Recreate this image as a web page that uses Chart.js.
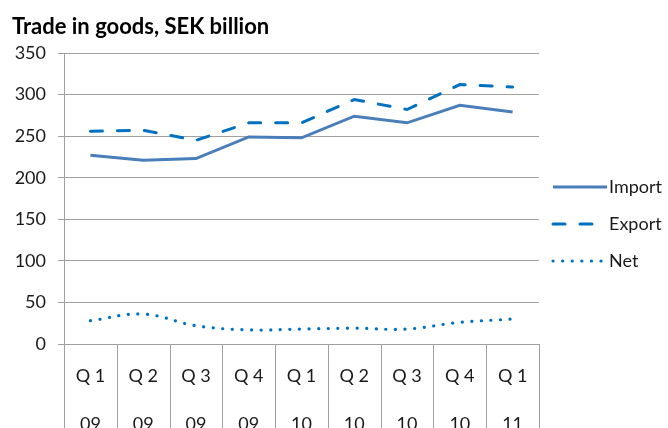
<!DOCTYPE html>
<html>
<head>
<meta charset="utf-8">
<script src="https://cdn.jsdelivr.net/npm/chart.js@4/dist/chart.umd.min.js"></script>
<style>
  html, body { margin: 0; padding: 0; background: #fff; overflow: hidden; }
  canvas { display: block; }
</style>
</head>
<body>
<canvas id="tradeChart" width="668" height="456"></canvas>
<script>
// quarters and years, two lines per category label
const quarters = ["Q 1", "Q 2", "Q 3", "Q 4", "Q 1", "Q 2", "Q 3", "Q 4", "Q 1"];
const years = ["09", "09", "09", "09", "10", "10", "10", "10", "11"];

// SEK billion
const importValues = [227, 221, 223, 249, 248, 274, 266, 287, 279];
const exportValues = [256, 257, 245, 266, 266, 294, 282, 312, 309];
const netValues = [28, 36, 22, 17, 18, 19, 18, 26, 30];

const yTicks = [0, 50, 100, 150, 200, 250, 300, 350];

const labels = quarters.map((q, i) => [q, years[i]]);
const gridColor = "#a0a0a0";
const textColor = "#1a1a1a";
const fontFamily = "Lato, 'Open Sans', sans-serif";

// legend on the right, one short line sample per series
const lineLegend = {
  id: "lineLegend",
  afterDraw(chart) {
    const ctx = chart.ctx;
    chart.data.datasets.forEach((ds, i) => {
      const y = 187 + i * 37;
      ctx.save();
      ctx.strokeStyle = ds.borderColor;
      ctx.lineWidth = ds.borderWidth;
      ctx.lineCap = ds.borderCapStyle || "butt";
      ctx.setLineDash(ds.borderDash || []);
      ctx.beginPath();
      ctx.moveTo(553, y);
      ctx.lineTo(607, y);
      ctx.stroke();
      ctx.setLineDash([]);
      ctx.fillStyle = textColor;
      ctx.font = "18px " + fontFamily;
      ctx.textBaseline = "middle";
      ctx.fillText(ds.label, 609, y);
      ctx.restore();
    });
  },
};

// vertical dividers between the category labels, down to the bottom edge
const categoryDividers = {
  id: "categoryDividers",
  afterDraw(chart) {
    const ctx = chart.ctx;
    const xScale = chart.scales.x;
    const bottom = chart.chartArea.bottom;
    const step = xScale.getPixelForValue(1) - xScale.getPixelForValue(0);
    ctx.save();
    ctx.strokeStyle = gridColor;
    ctx.lineWidth = 1;
    for (let i = 0; i <= labels.length; i++) {
      const px = Math.round(xScale.getPixelForValue(i) - step / 2) + 0.5;
      ctx.beginPath();
      ctx.moveTo(px, bottom);
      ctx.lineTo(px, chart.height);
      ctx.stroke();
    }
    ctx.restore();
  },
};

const ctx = document.getElementById("tradeChart").getContext("2d");
const tradeChart = new Chart(ctx, {
  type: "line",
  data: {
    labels: labels,
    datasets: [
      {
        label: "Import",
        data: importValues,
        borderColor: "#4a7ebb",
        borderWidth: 3,
        tension: 0,
        pointRadius: 0,
      },
      {
        label: "Export",
        data: exportValues,
        borderColor: "#0070c0",
        borderWidth: 3,
        borderDash: [12, 15],
        borderCapStyle: "round",
        tension: 0,
        pointRadius: 0,
      },
      {
        label: "Net",
        data: netValues,
        borderColor: "#0070c0",
        borderWidth: 3.2,
        borderDash: [0.1, 9.5],
        borderCapStyle: "round",
        tension: 0.4,
        pointRadius: 0,
      },
    ],
  },
  options: {
    responsive: false,
    animation: false,
    layout: { padding: { left: 12, right: 129, top: 0, bottom: 0 } },
    plugins: {
      legend: { display: false },
      tooltip: { enabled: false },
      title: {
        display: true,
        text: "Trade in goods, SEK billion",
        align: "start",
        color: "#000",
        font: { family: fontFamily, size: 22, weight: "bold", lineHeight: 1.2 },
        padding: { top: 13.5, bottom: 13.1 },
      },
    },
    scales: {
      x: {
        offset: true,
        border: { color: gridColor, width: 1 },
        grid: { display: false, drawTicks: false },
        ticks: {
          padding: 7.5,
          color: textColor,
          maxRotation: 0,
          autoSkip: false,
          font: { family: fontFamily, size: 18, lineHeight: 48.5 / 18 },
        },
      },
      y: {
        min: 0,
        max: 350,
        afterFit(scale) {
          scale.width = 52;
        },
        afterBuildTicks(scale) {
          scale.ticks = yTicks.map((v) => ({ value: v }));
        },
        border: { color: gridColor, width: 1 },
        grid: { color: gridColor, tickLength: 6 },
        ticks: {
          padding: 12,
          color: textColor,
          font: { family: fontFamily, size: 18 },
        },
      },
    },
  },
  plugins: [lineLegend, categoryDividers],
});
</script>
</body>
</html>
